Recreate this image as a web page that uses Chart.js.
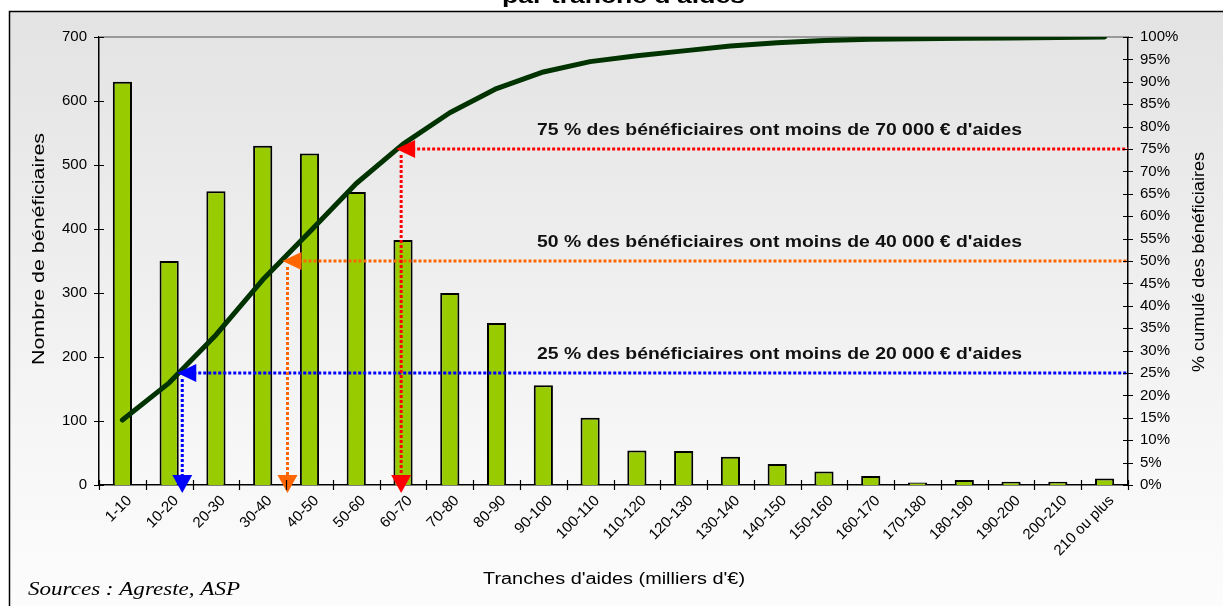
<!DOCTYPE html>
<html><head><meta charset="utf-8">
<script src="https://cdn.jsdelivr.net/npm/chart.js@4.4.0/dist/chart.umd.min.js"></script>
<style>html,body{margin:0;padding:0;background:#fff;overflow:hidden}#wrap{width:1223px;height:606px;position:relative}canvas{display:block}</style>
</head><body><div id="wrap"><canvas id="c" width="1223" height="606"></canvas></div>
<script>
const categories = ['1-10','10-20','20-30','30-40','40-50','50-60','60-70','70-80','80-90','90-100','100-110','110-120','120-130','130-140','140-150','150-160','160-170','170-180','180-190','190-200','200-210','210 ou plus'];
const beneficiaires = [630,350,459,530,518,458,383,300,253,156,105,54,53,44,33,21,14,4,8,5,5,10];
const cumulPct = [14.5,22.8,33.5,45.8,56.5,67.3,76.1,83.1,88.5,92.2,94.5,95.8,96.9,98.0,98.7,99.2,99.5,99.6,99.7,99.8,99.9,100];
const seuilsPct = [25,50,75];
const seuilsIndex = [1.28,3.53,5.96];
const seuilsCouleurs = ['#0000ff','#ff6600','#ff0000'];
const seuilsTextes = [
  "25 % des bénéficiaires ont moins de 20 000 € d'aides",
  "50 % des bénéficiaires ont moins de 40 000 € d'aides",
  "75 % des bénéficiaires ont moins de 70 000 € d'aides"
];
const titre = "par tranche d'aides";
const titreX = "Tranches d'aides (milliers d'€)";
const titreY = "Nombre de bénéficiaires";
const titreY1 = "% cumulé des bénéficiaires";
const sourceTxt = "Sources : Agreste, ASP";

const SANS = "'Liberation Sans', Arial, sans-serif";
const SERIF = "'Liberation Serif', 'Times New Roman', serif";

function stretchText(ctx, text, cx, cy, len, rot, align) {
  const w = ctx.measureText(text).width;
  ctx.save();
  ctx.translate(cx, cy);
  if (rot) ctx.rotate(rot);
  ctx.scale(len / w, 1);
  ctx.textAlign = align || 'center';
  ctx.textBaseline = 'middle';
  ctx.fillText(text, 0, 0);
  ctx.restore();
}

const decorPlugin = {
  id: 'decor',
  beforeDraw(chart) {
    const ctx = chart.ctx;
    ctx.save();
    ctx.fillStyle = '#ffffff';
    ctx.fillRect(0, 0, chart.width, chart.height);
    const g = ctx.createLinearGradient(0, 11, 0, 606);
    g.addColorStop(0, '#e3e3e3');
    g.addColorStop(0.75, '#f7f7f7');
    g.addColorStop(1, '#fcfcfc');
    ctx.fillStyle = g;
    ctx.fillRect(9, 11, chart.width + 20, chart.height + 20);
    ctx.strokeStyle = '#000';
    ctx.lineWidth = 1.5;
    ctx.beginPath();
    ctx.moveTo(9.5, 700); ctx.lineTo(9.5, 11.5); ctx.lineTo(1300, 11.5);
    ctx.stroke();
    ctx.fillStyle = '#000';
    ctx.font = "bold 20px " + SANS;
    ctx.textBaseline = 'alphabetic';
    const w = ctx.measureText(titre).width;
    ctx.save();
    ctx.translate(502, 3);
    ctx.scale(243 / w, 1);
    ctx.fillText(titre, 0, 0);
    ctx.restore();
    ctx.restore();
  },
  beforeDatasetsDraw(chart) {
    const ctx = chart.ctx, a = chart.chartArea;
    ctx.save();
    ctx.strokeStyle = '#9a9a9a';
    ctx.lineWidth = 2;
    ctx.beginPath();
    ctx.moveTo(a.left, a.top); ctx.lineTo(a.right, a.top);
    ctx.stroke();
    ctx.restore();
  },
  afterDatasetsDraw(chart) {
    const ctx = chart.ctx;
    const xs = chart.scales.x, ys = chart.scales.y, y1 = chart.scales.y1;
    const a = chart.chartArea;
    const y0 = ys.getPixelForValue(0);
    ctx.save();
    for (let i = 0; i < seuilsPct.length; i++) {
      const col = seuilsCouleurs[i];
      const yy = y1.getPixelForValue(seuilsPct[i]);
      const xv = xs.getPixelForValue(seuilsIndex[i]);
      const tip = xv - 5;
      ctx.strokeStyle = col;
      ctx.lineWidth = 3;
      ctx.setLineDash([3, 2]);
      ctx.beginPath();
      ctx.moveTo(tip + 16, yy); ctx.lineTo(a.right, yy);
      ctx.stroke();
      ctx.beginPath();
      ctx.moveTo(xv, yy + 6); ctx.lineTo(xv, y0 - 8);
      ctx.stroke();
      ctx.setLineDash([]);
      ctx.fillStyle = col;
      ctx.beginPath();
      ctx.moveTo(tip, yy); ctx.lineTo(tip + 19, yy - 9); ctx.lineTo(tip + 19, yy + 9); ctx.closePath();
      ctx.fill();
      ctx.beginPath();
      ctx.moveTo(xv, y0 + 8); ctx.lineTo(xv - 10, y0 - 10); ctx.lineTo(xv + 10, y0 - 10); ctx.closePath();
      ctx.fill();
      ctx.fillStyle = '#111';
      ctx.font = "bold 16px " + SANS;
      stretchText(ctx, seuilsTextes[i], 537, yy - 18, 485, 0, 'left');
    }
    ctx.restore();
  },
  afterDraw(chart) {
    const ctx = chart.ctx;
    const xs = chart.scales.x, ys = chart.scales.y, y1 = chart.scales.y1;
    const a = chart.chartArea;
    ctx.save();
    ctx.strokeStyle = '#000';
    ctx.lineWidth = 1.2;
    ctx.beginPath();
    ys.ticks.forEach(t => { const p = Math.round(ys.getPixelForValue(t.value)) + 0.5; ctx.moveTo(a.left - 5, p); ctx.lineTo(a.left + 5, p); });
    y1.ticks.forEach(t => { const p = Math.round(y1.getPixelForValue(t.value)) + 0.5; ctx.moveTo(a.right - 5, p); ctx.lineTo(a.right + 5, p); });
    for (let i = 0; i <= categories.length; i++) {
      const p = Math.round(xs.getPixelForValue(i - 0.5)) + 0.5;
      ctx.moveTo(p, a.bottom - 5); ctx.lineTo(p, a.bottom + 5);
    }
    ctx.stroke();
    ctx.fillStyle = '#000';
    ctx.font = "16px " + SANS;
    stretchText(ctx, titreY, 40, 249, 232, -Math.PI / 2);
    stretchText(ctx, titreY1, 1200, 262, 220, -Math.PI / 2);
    stretchText(ctx, titreX, 614, 580, 262, 0);
    ctx.font = "italic 18px " + SERIF;
    stretchText(ctx, sourceTxt, 28, 590, 212, 0, 'left');
    ctx.restore();
  }
};

const tickFont = { family: SANS, size: 15 };

new Chart(document.getElementById('c'), {
  data: {
    labels: categories,
    datasets: [
      {
        type: 'line', label: '% cumulé', data: cumulPct, yAxisID: 'y1', order: 0,
        borderColor: '#003300', borderWidth: 5, pointRadius: 0, tension: 0,
        borderCapStyle: 'round', borderJoinStyle: 'round', fill: false
      },
      {
        type: 'bar', label: 'Nombre de bénéficiaires', data: beneficiaires, yAxisID: 'y', order: 1,
        backgroundColor: '#99cc00', borderColor: '#000000', borderWidth: 2,
        barPercentage: 0.41, categoryPercentage: 1.0
      }
    ]
  },
  options: {
    responsive: false,
    devicePixelRatio: 1,
    animation: false,
    layout: { padding: { top: 37, left: 0, right: 0, bottom: 0 } },
    plugins: { legend: { display: false }, tooltip: { enabled: false } },
    scales: {
      x: {
        type: 'category', offset: true,
        grid: { display: false, drawTicks: false, offset: true },
        border: { display: true, color: '#000', width: 1.5 },
        ticks: { font: tickFont, color: '#000', minRotation: 45, maxRotation: 45, autoSkip: false, padding: 7, labelOffset: 7 },
        afterFit(s) { s.height = 121; }
      },
      y: {
        position: 'left', min: 0, max: 700,
        grid: { display: false, drawTicks: false },
        border: { display: true, color: '#000', width: 1.5 },
        ticks: { stepSize: 100, font: tickFont, color: '#000', padding: 12 },
        afterFit(s) { s.width = 99; }
      },
      y1: {
        position: 'right', min: 0, max: 100,
        grid: { display: false, drawTicks: false },
        border: { display: true, color: '#000', width: 1.5 },
        ticks: { stepSize: 5, autoSkip: false, font: tickFont, color: '#000', padding: 12, callback: v => v + '%' },
        afterFit(s) { s.width = 95; }
      }
    }
  },
  plugins: [decorPlugin]
});
</script>
</body></html>
